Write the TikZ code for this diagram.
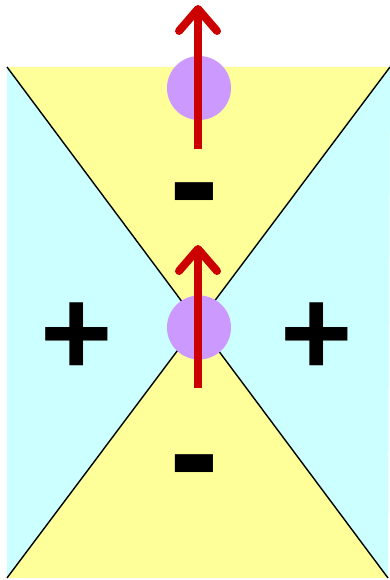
\documentclass[tikz,border=0pt]{standalone}
\usepackage{fontspec}
\usepackage{tikz}
\usetikzlibrary{arrows.meta, positioning}
\newfontfamily\signfont{Liberation Sans}
\definecolor{coneyellow}{HTML}{FFFF99}
\definecolor{sidecyan}{HTML}{CCFFFF}
\definecolor{dotviolet}{HTML}{CC99FF}
\definecolor{spinred}{HTML}{CC0000}

\begin{document}
\begin{tikzpicture}[
  x=1pt, y=1pt,
  dot/.style={circle, fill=dotviolet, draw=none, inner sep=0pt, minimum size=64pt},
  sign/.style={inner sep=0pt, font=\signfont\bfseries\fontsize{124}{124}\selectfont},
  minus/.style={inner sep=0pt, font=\signfont\bfseries\fontsize{150}{150}\selectfont},
  spin/.style={-{Straight Barb[length=22pt, width=38pt, round]}, line width=8pt, color=spinred},
  edge/.style={line width=1.4pt, black}
]
  \useasboundingbox (0,0) rectangle (390,580);

  % corners of the cones
  \coordinate (tl) at (7,513);
  \coordinate (tr) at (390,513);
  \coordinate (bl) at (7,2);
  \coordinate (br) at (388,2);
  \coordinate (mid) at (198,258);

  % background regions
  \fill[sidecyan] (tl) -- (tr) -- (br) -- (bl) -- cycle;
  \fill[coneyellow] (tl) -- (tr) -- (mid) -- cycle;
  \fill[coneyellow] (bl) -- (br) -- (mid) -- cycle;
  \draw[edge] (tl) -- (br);
  \draw[edge] (tr) -- (bl);

  % charges
  \node[dot] (upper) at (199,492) {};
  \node[dot] (center) at (199,252.5) {};

  \node[sign] (plusl) at (77,241) {+};
  \node[sign] (plusr) at (317,241) {+};
  \node[minus] (minust) at (194,373.5) {-};
  \node[minus] (minusb) at (194,101.5) {-};

  % spin arrows
  \coordinate (uptail) at (198,431);
  \coordinate (uptip) at (198,575);
  \coordinate (ctail) at (198,192);
  \coordinate (ctip) at (198,335);
  \draw[spin] (uptail) -- (uptip);
  \draw[spin] (ctail) -- (ctip);
\end{tikzpicture}
\end{document}
